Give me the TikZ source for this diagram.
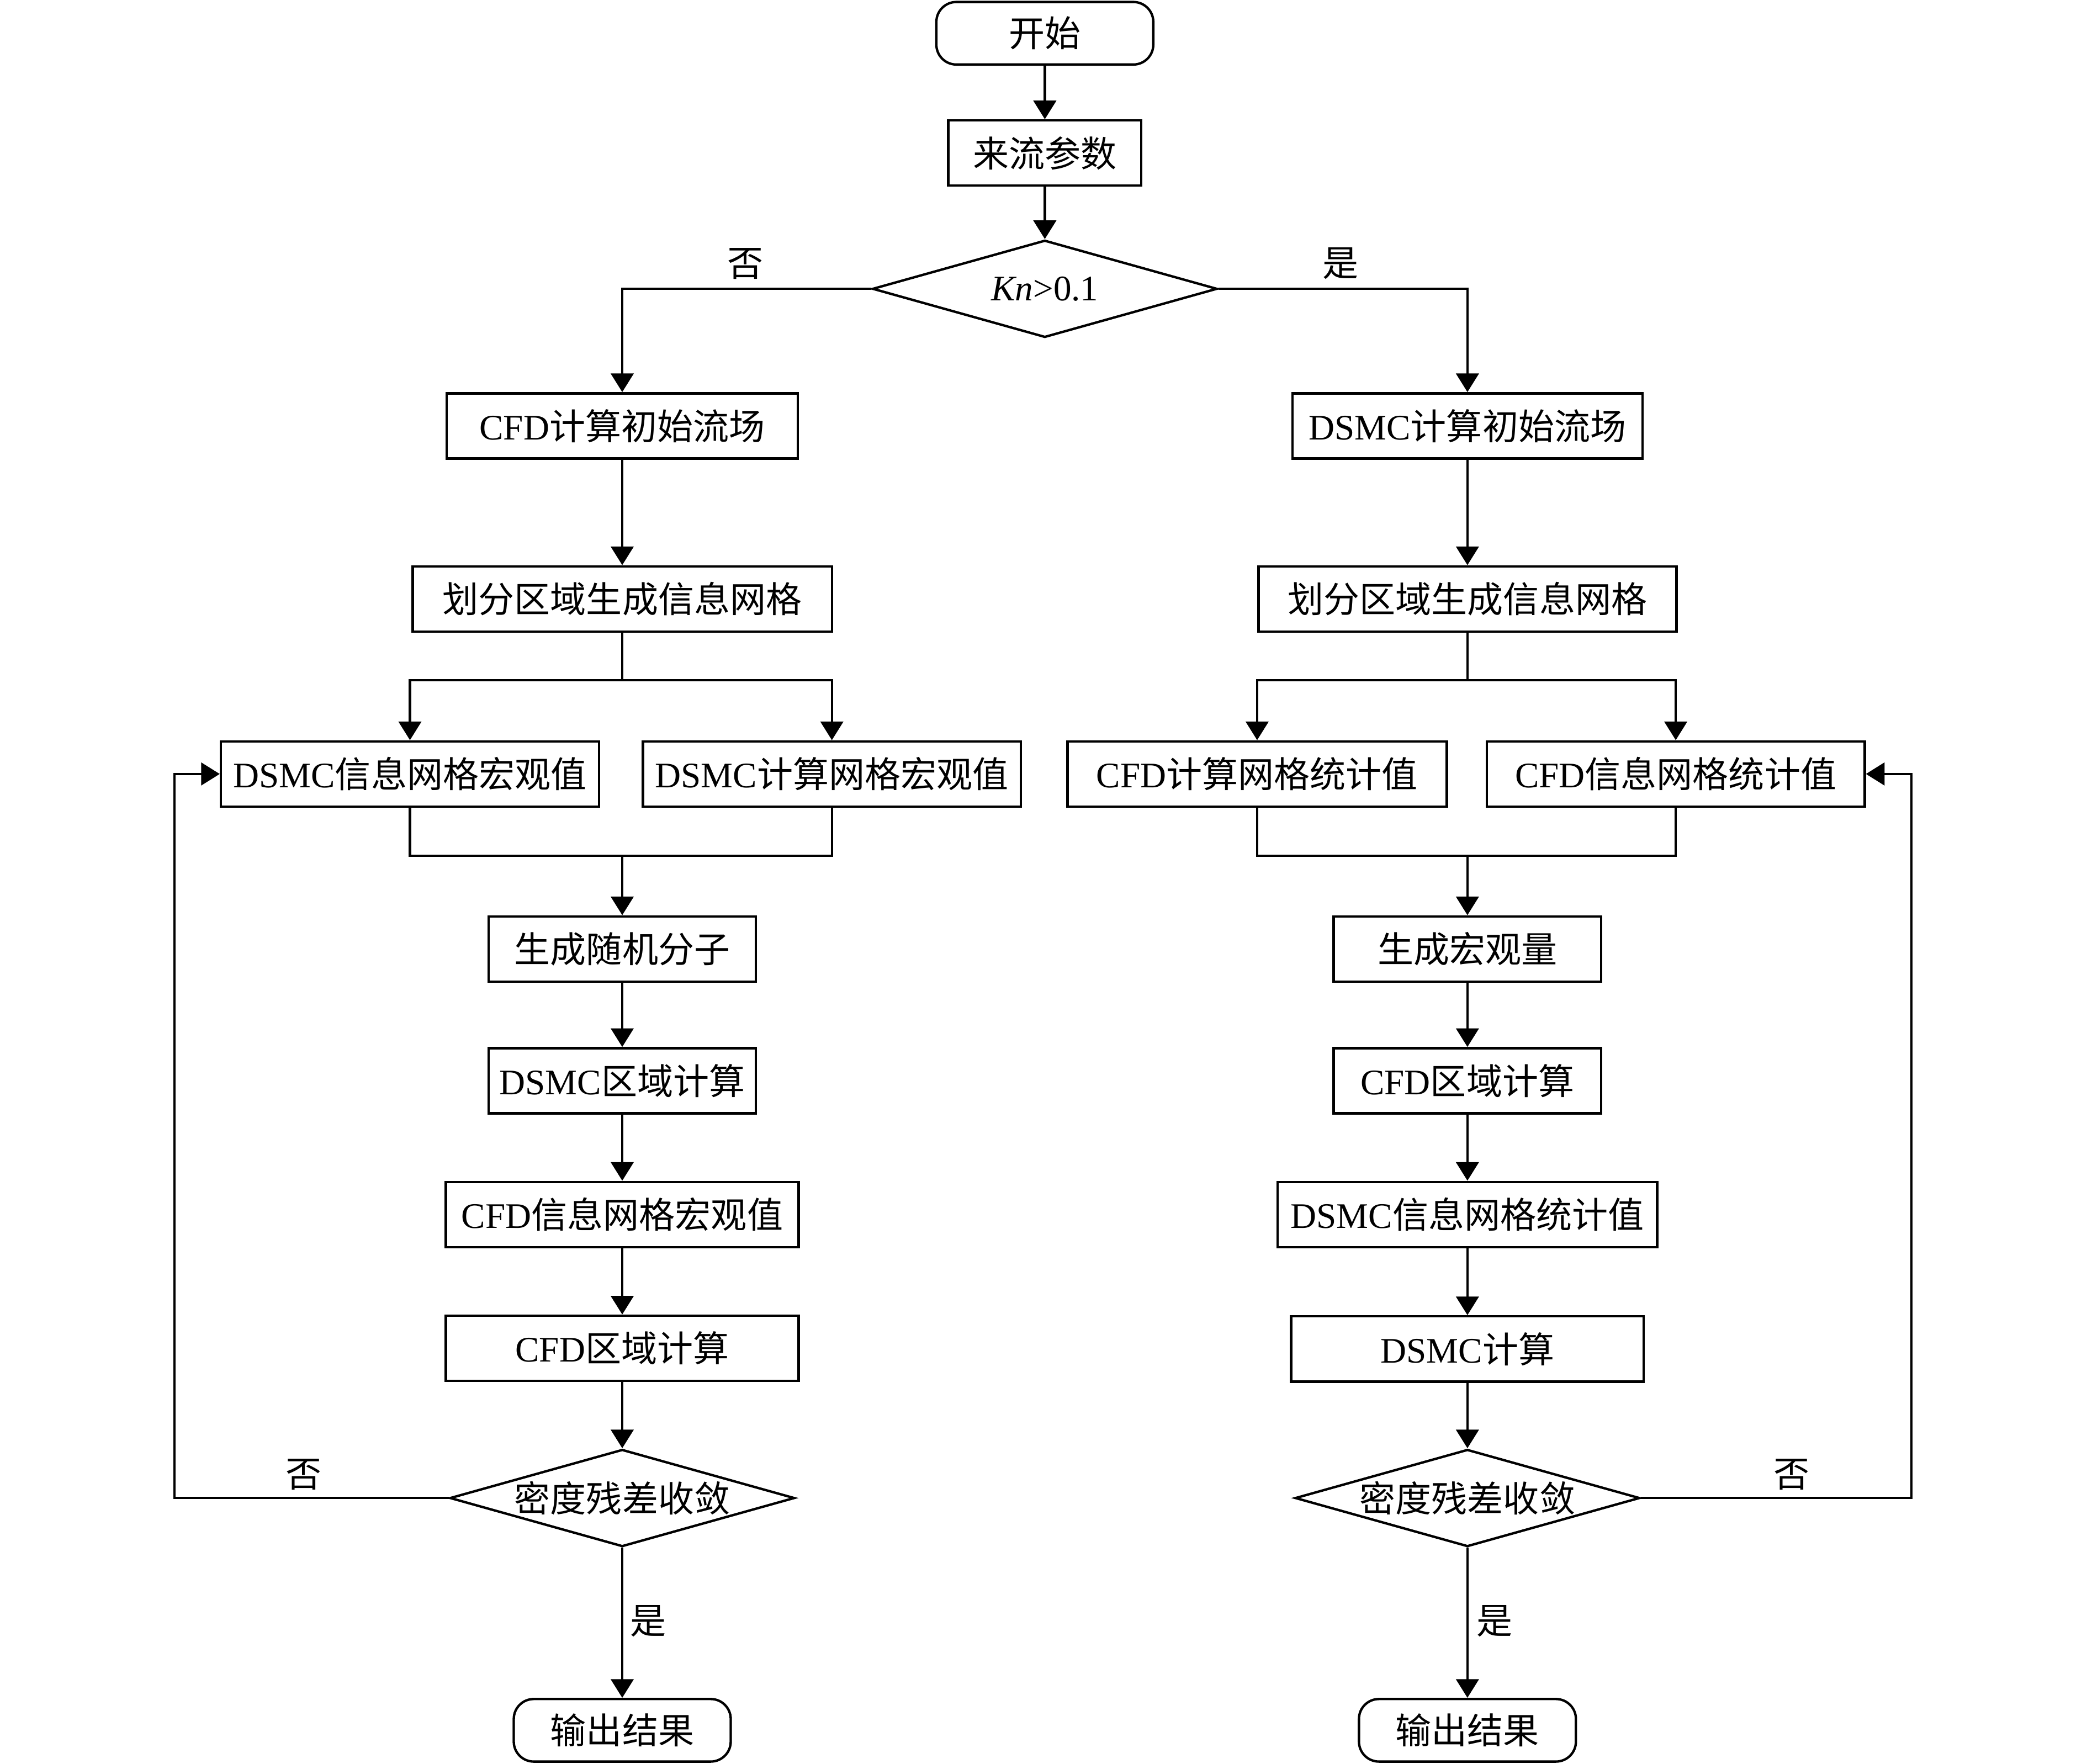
\documentclass[tikz,border=0pt]{standalone}
\usepackage{fontspec}
\setmainfont{Liberation Serif}
\newfontfamily\cjk{Noto Sans CJK SC}
\usetikzlibrary{arrows.meta,shapes.geometric}
\newcommand\zh[1]{{\cjk #1}}
\begin{document}
\begin{tikzpicture}[x=0.5pt,y=-0.5pt,
  every node/.style={font=\fontsize{13.5}{16}\selectfont},
  base/.style={draw,line width=0.9pt,inner sep=0pt,minimum height=24.5pt},
  procbox/.style={base},
  termbox/.style={base,rounded corners=7.5pt,minimum width=81.5pt,minimum height=23.5pt},
  decbox/.style={draw,line width=0.9pt,diamond,aspect=3.55,inner sep=0pt,minimum width=129.5pt,minimum height=36.5pt},
  conn/.style={line width=0.9pt},
  arr/.style={conn,-{Triangle[length=7pt,width=8.5pt]}},
  lbl/.style={inner sep=0pt}]
\useasboundingbox (0,0) rectangle (1568,1325);
% top
\node[termbox] (start) at (785,25) {\zh{开始}};
\node[procbox,minimum width=72.5pt] (inflow) at (785,115) {\zh{来流参数}};
\node[decbox] (kn) at (785,217) {\textit{Kn}>0.1};
% left column
\node[procbox,minimum width=132pt] (L1) at (467.5,320) {CFD\zh{计算初始流场}};
\node[procbox,minimum width=157.5pt] (L2) at (467.5,450) {\zh{划分区域生成信息网格}};
\node[procbox,minimum width=142pt] (LA) at (308,581.5) {DSMC\zh{信息网格宏观值}};
\node[procbox,minimum width=142pt] (LB) at (625,581.5) {DSMC\zh{计算网格宏观值}};
\node[procbox,minimum width=100.5pt] (L3) at (467.5,713) {\zh{生成随机分子}};
\node[procbox,minimum width=100.5pt] (L4) at (467.5,812) {DSMC\zh{区域计算}};
\node[procbox,minimum width=132.5pt] (L5) at (467.5,912.5) {CFD\zh{信息网格宏观值}};
\node[procbox,minimum width=132.5pt] (L6) at (467.5,1013) {CFD\zh{区域计算}};
\node[decbox] (LD) at (467.5,1125.5) {\zh{密度残差收敛}};
\node[termbox] (Lend) at (467.5,1300) {\zh{输出结果}};
% right column
\node[procbox,minimum width=131.5pt] (R1) at (1102.5,320) {DSMC\zh{计算初始流场}};
\node[procbox,minimum width=157pt] (R2) at (1102.5,450) {\zh{划分区域生成信息网格}};
\node[procbox,minimum width=142.5pt] (RA) at (944.5,581.5) {CFD\zh{计算网格统计值}};
\node[procbox,minimum width=142pt] (RB) at (1259,581.5) {CFD\zh{信息网格统计值}};
\node[procbox,minimum width=100.5pt] (R3) at (1102.5,713) {\zh{生成宏观量}};
\node[procbox,minimum width=100.5pt] (R4) at (1102.5,812) {CFD\zh{区域计算}};
\node[procbox,minimum width=142.5pt] (R5) at (1102.5,912.5) {DSMC\zh{信息网格统计值}};
\node[procbox,minimum width=132.5pt] (R6) at (1102.5,1013.5) {DSMC\zh{计算}};
\node[decbox] (RD) at (1102.5,1125.5) {\zh{密度残差收敛}};
\node[termbox] (Rend) at (1102.5,1300) {\zh{输出结果}};
% helper coordinates
\coordinate (Ls) at (467.5,511);
\coordinate (Lm) at (467.5,643);
\coordinate (Rs) at (1102.5,511);
\coordinate (Rm) at (1102.5,643);
\coordinate (Lloop) at (131,1125.5);
\coordinate (Rloop) at (1436,1125.5);
% connectors top
\draw[arr] (start) -- (inflow);
\draw[arr] (inflow) -- (kn);
\draw[arr] (kn.west) -| (L1.north);
\draw[arr] (kn.east) -| (R1.north);
\node[lbl] (no0) at (560,198) {\zh{否}};
\node[lbl] (yes0) at (1007,198) {\zh{是}};
% left connectors
\draw[arr] (L1) -- (L2);
\draw[conn] (L2.south) -- (Ls);
\draw[arr] (Ls) -| (LA.north);
\draw[arr] (Ls) -| (LB.north);
\draw[conn] (LA.south) |- (Lm);
\draw[conn] (LB.south) |- (Lm);
\draw[arr] (Lm) -- (L3.north);
\draw[arr] (L3) -- (L4);
\draw[arr] (L4) -- (L5);
\draw[arr] (L5) -- (L6);
\draw[arr] (L6.south) -- (LD.north);
\draw[arr] (LD.south) -- (Lend.north);
\draw[arr] (LD.west) -- (Lloop) |- (LA.west);
\node[lbl] (no1) at (228,1108) {\zh{否}};
\node[lbl] (yes1) at (487,1218) {\zh{是}};
% right connectors
\draw[arr] (R1) -- (R2);
\draw[conn] (R2.south) -- (Rs);
\draw[arr] (Rs) -| (RA.north);
\draw[arr] (Rs) -| (RB.north);
\draw[conn] (RA.south) |- (Rm);
\draw[conn] (RB.south) |- (Rm);
\draw[arr] (Rm) -- (R3.north);
\draw[arr] (R3) -- (R4);
\draw[arr] (R4) -- (R5);
\draw[arr] (R5) -- (R6);
\draw[arr] (R6.south) -- (RD.north);
\draw[arr] (RD.south) -- (Rend.north);
\draw[arr] (RD.east) -- (Rloop) |- (RB.east);
\node[lbl] (no2) at (1346,1108) {\zh{否}};
\node[lbl] (yes2) at (1123,1218) {\zh{是}};
\end{tikzpicture}
\end{document}
